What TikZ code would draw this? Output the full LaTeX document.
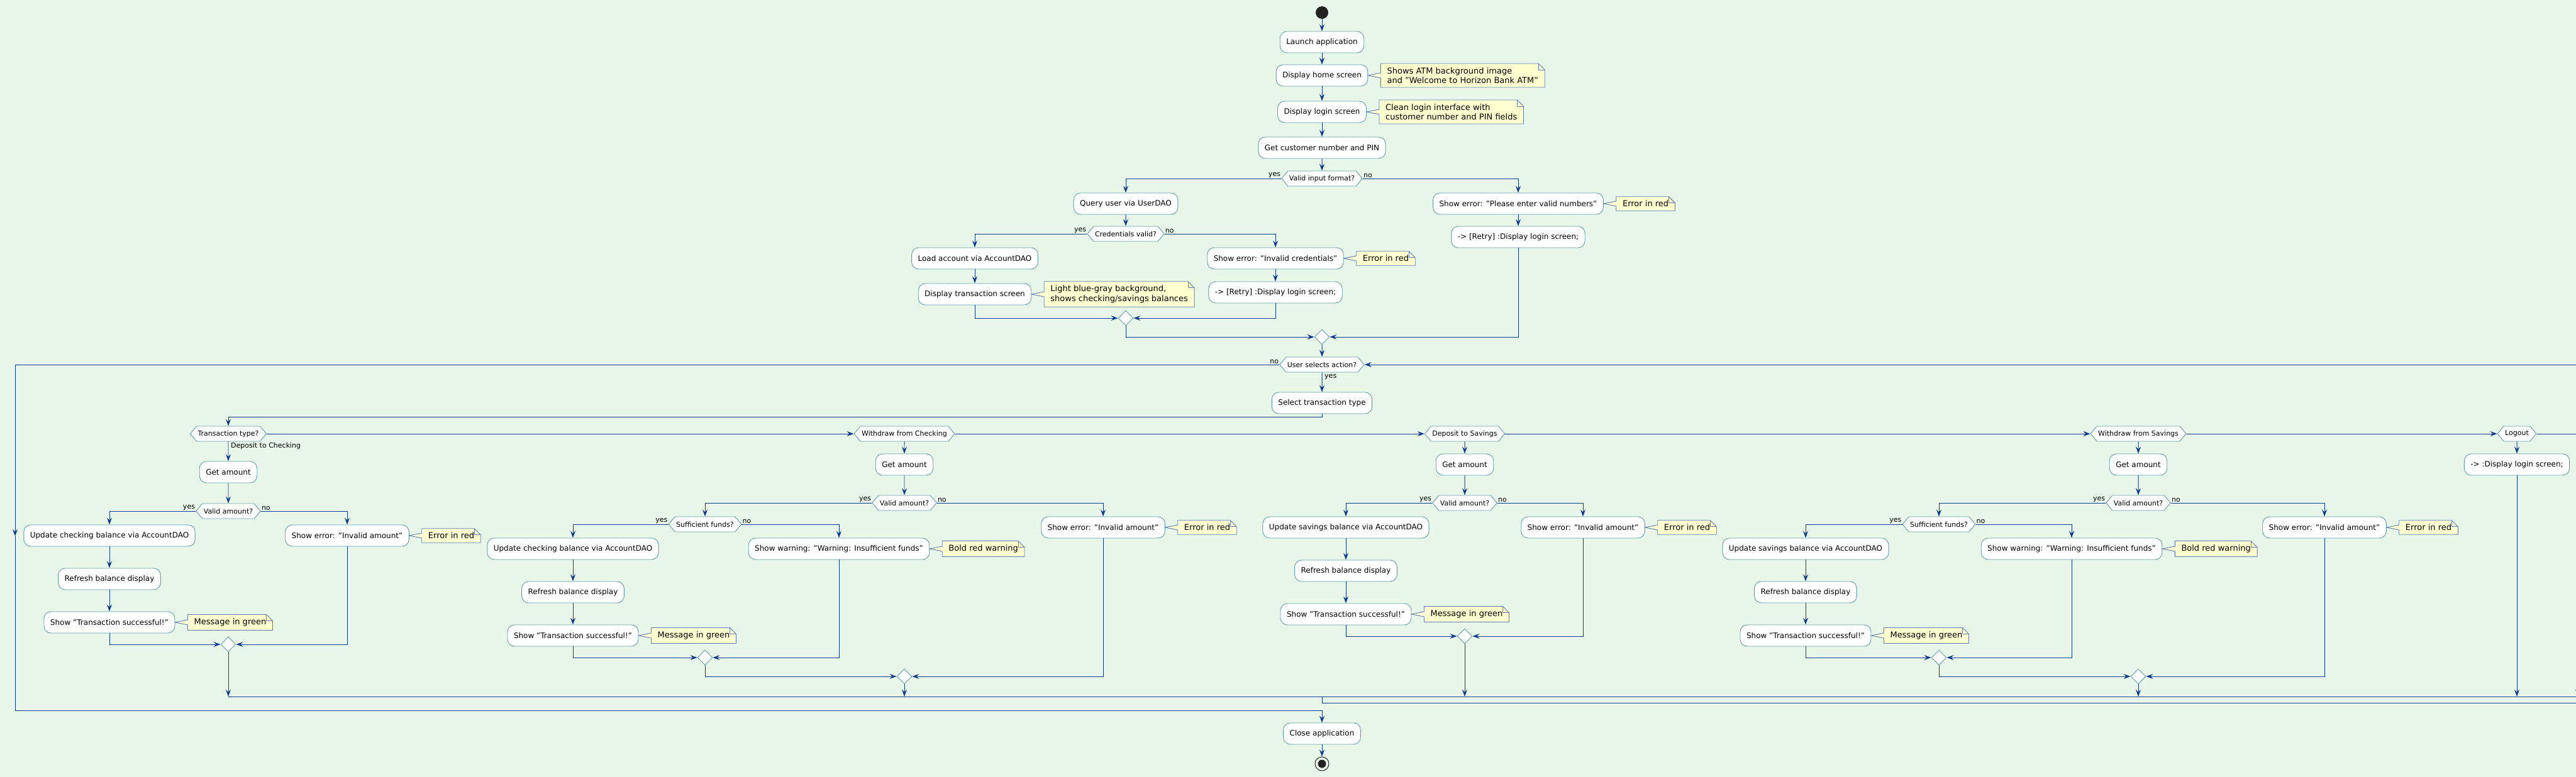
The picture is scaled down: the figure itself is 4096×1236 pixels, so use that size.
\documentclass[tikz,border=0pt]{standalone}
\usepackage{fontspec}
\setmainfont{DejaVu Sans}
\usepackage{tikz}
\usetikzlibrary{positioning,shapes.geometric,shapes.symbols,arrows.meta,calc}
\usepackage{color}
\definecolor{bgc}{HTML}{E8F5E9}
\definecolor{actc}{HTML}{5F9EA8}
\definecolor{flowc}{HTML}{0D3B8E}
\definecolor{notec}{HTML}{FFFFD0}
\definecolor{notelc}{HTML}{5F7FB5}
\definecolor{dotc}{HTML}{222222}
\tikzset{
  actbox/.style={draw=actc, line width=0.9pt, fill=white, rounded corners=11pt, minimum height=34pt, inner xsep=10pt, inner ysep=0pt, font=\fontsize{12}{14}\selectfont},
  decbox/.style={shape=signal, signal to=west and east, signal pointer angle=100, draw=actc, line width=0.9pt, fill=white, minimum height=24pt, inner xsep=2pt, inner ysep=2pt, font=\fontsize{11}{13}\selectfont},
  mergebox/.style={diamond, draw=actc, line width=0.9pt, fill=white, minimum width=24pt, minimum height=24pt, inner sep=0pt},
  notebox/.style={fill=notec, inner xsep=10pt, inner ysep=6pt, align=left, font=\fontsize{13}{15.5}\selectfont},
  arrowline/.style={draw=flowc, line width=0.95pt, -{Stealth[length=11pt, width=8pt, inset=4pt]}},
  plainline/.style={draw=flowc, line width=0.95pt},
  branchlabel/.style={font=\fontsize{11}{13}\selectfont, inner sep=1pt},
}
\newcommand{\noteto}[2]{%
  \fill[bgc] ([xshift=-10pt]#1.north east) -- (#1.north east) -- ([yshift=-10pt]#1.north east) -- cycle;
  \fill[notec] ([yshift=4pt]#1.west) -- (#2.east) -- ([yshift=-4pt]#1.west) -- cycle;
  \draw[notelc, line width=0.9pt] (#1.north west) -- ([xshift=-10pt]#1.north east) -- ([yshift=-10pt]#1.north east) -- (#1.south east) -- (#1.south west) -- ([yshift=-4pt]#1.west) -- (#2.east) -- ([yshift=4pt]#1.west) -- cycle;
  \draw[notelc, line width=0.9pt] ([xshift=-10pt]#1.north east) |- ([yshift=-10pt]#1.north east);
}
\begin{document}
\begin{tikzpicture}[x=1pt,y=-1pt]
\useasboundingbox (0,0) rectangle (4096,1236);
\fill[bgc] (0,0) rectangle (4096,1236);

\node[circle, fill=dotc, minimum size=20pt, inner sep=0pt] (ST) at (2102,20) {};
\node[actbox] (LA) at (2102,67) {Launch application};
\node[actbox] (HS) at (2102,120) {Display home screen};
\node[notebox, right=20pt of HS] (N1) {Shows ATM background image\\and "Welcome to Horizon Bank ATM"};
\node[actbox] (LS) at (2102,178) {Display login screen};
\node[notebox, right=20pt of LS] (N2) {Clean login interface with\\customer number and PIN fields};
\node[actbox] (GP) at (2102,235) {Get customer number and PIN};
\node[decbox] (VF) at (2102,284) {Valid input format?};
\node[actbox] (QU) at (1790,324) {Query user via UserDAO};
\node[decbox] (CV) at (1790,372) {Credentials valid?};
\node[actbox] (LD) at (1550,411) {Load account via AccountDAO};
\node[actbox] (DT) at (1550,468) {Display transaction screen};
\node[notebox, right=20pt of DT] (N3) {Light blue-gray background,\\shows checking/savings balances};
\node[actbox] (EC) at (2028,411) {Show error: "Invalid credentials"};
\node[notebox, right=20pt of EC] (N4) {Error in red};
\node[actbox] (R1) at (2028,465) {-> [Retry] :Display login screen;};
\node[mergebox] (M1) at (1790,506) {};
\node[actbox] (EV) at (2414,324) {Show error: "Please enter valid numbers"};
\node[notebox, right=20pt of EV] (N5) {Error in red};
\node[actbox] (R2) at (2414,377) {-> [Retry] :Display login screen;};
\node[mergebox] (M2) at (2102,536) {};
\node[decbox] (UA) at (2102,580) {User selects action?};
\node[actbox] (SE) at (2102,641) {Select transaction type};
\node[decbox] (TT) at (363,690) {Transaction type?};

\node[actbox] (GA1) at (363,751) {Get amount};
\node[decbox] (VA1) at (363,813) {Valid amount?};
\node[actbox] (UP1) at (174,852) {Update checking balance via AccountDAO};
\node[actbox] (RF1) at (174,921) {Refresh balance display};
\node[actbox] (SC1) at (174,990) {Show "Transaction successful!"};
\node[notebox, right=20pt of SC1] (N6) {Message in green};
\node[actbox] (ER1) at (552,852) {Show error: "Invalid amount"};
\node[notebox, right=20pt of ER1] (N7) {Error in red};
\node[mergebox] (M3) at (363,1025) {};

\node[decbox] (WC) at (1438,690) {Withdraw from Checking};
\node[actbox] (GA2) at (1438,739) {Get amount};
\node[decbox] (VA2) at (1438,800) {Valid amount?};
\node[decbox] (SF1) at (1121,834) {Sufficient funds?};
\node[actbox] (UP2) at (911,873) {Update checking balance via AccountDAO};
\node[actbox] (RF2) at (911,942) {Refresh balance display};
\node[actbox] (SC2) at (911,1011) {Show "Transaction successful!"};
\node[notebox, right=20pt of SC2] (N8) {Message in green};
\node[actbox] (WN1) at (1334,873) {Show warning: "Warning: Insufficient funds"};
\node[notebox, right=20pt of WN1] (N9) {Bold red warning};
\node[mergebox] (M4) at (1121,1046) {};
\node[actbox] (ER2) at (1754,839) {Show error: "Invalid amount"};
\node[notebox, right=20pt of ER2] (N10) {Error in red};
\node[mergebox] (M5) at (1438,1076) {};

\node[decbox] (DS) at (2329,690) {Deposit to Savings};
\node[actbox] (GA3) at (2329,739) {Get amount};
\node[decbox] (VA3) at (2329,800) {Valid amount?};
\node[actbox] (UP3) at (2140,839) {Update savings balance via AccountDAO};
\node[actbox] (RF3) at (2140,908) {Refresh balance display};
\node[actbox] (SC3) at (2140,977) {Show "Transaction successful!"};
\node[notebox, right=20pt of SC3] (N11) {Message in green};
\node[actbox] (ER3) at (2517,839) {Show error: "Invalid amount"};
\node[notebox, right=20pt of ER3] (N12) {Error in red};
\node[mergebox] (M6) at (2329,1012) {};

\node[decbox] (WS) at (3400,690) {Withdraw from Savings};
\node[actbox] (GA4) at (3400,739) {Get amount};
\node[decbox] (VA4) at (3400,800) {Valid amount?};
\node[decbox] (SF2) at (3083,834) {Sufficient funds?};
\node[actbox] (UP4) at (2871,873) {Update savings balance via AccountDAO};
\node[actbox] (RF4) at (2871,942) {Refresh balance display};
\node[actbox] (SC4) at (2871,1011) {Show "Transaction successful!"};
\node[notebox, right=20pt of SC4] (N13) {Message in green};
\node[actbox] (WN2) at (3294,873) {Show warning: "Warning: Insufficient funds"};
\node[notebox, right=20pt of WN2] (N14) {Bold red warning};
\node[mergebox] (M7) at (3083,1046) {};
\node[actbox] (ER4) at (3696,839) {Show error: "Invalid amount"};
\node[notebox, right=20pt of ER4] (N15) {Error in red};
\node[mergebox] (M8) at (3400,1076) {};

\node[decbox] (LO) at (4002,690) {Logout};
\node[actbox] (RL) at (4002,739) {-> :Display login screen;};

\node[actbox] (CL) at (2102,1167) {Close application};
\node[circle, draw=dotc, line width=1pt, fill=bgc, minimum size=22pt, inner sep=0pt] (SP) at (2102,1215) {};
\fill[dotc] (SP.center) circle (6.5pt);

\coordinate (SW) at (0,1108);
\coordinate (SX) at (4120,1108);
\coordinate (LB) at (4120,1118);
\coordinate (LE) at (4120,690);
\coordinate (LM) at (24,853);
\coordinate (LX) at (24,1130);
\coordinate (RX) at (4099,1060);

\noteto{N1}{HS}
\noteto{N2}{LS}
\noteto{N3}{DT}
\noteto{N4}{EC}
\noteto{N5}{EV}
\noteto{N6}{SC1}
\noteto{N7}{ER1}
\noteto{N8}{SC2}
\noteto{N9}{WN1}
\noteto{N10}{ER2}
\noteto{N11}{SC3}
\noteto{N12}{ER3}
\noteto{N13}{SC4}
\noteto{N14}{WN2}
\noteto{N15}{ER4}

\draw[arrowline] (ST) -- (LA);
\draw[arrowline] (LA) -- (HS);
\draw[arrowline] (HS) -- (LS);
\draw[arrowline] (LS) -- (GP);
\draw[arrowline] (GP) -- (VF);
\draw[arrowline] (VF.west) -| (QU.north);
\draw[arrowline] (VF.east) -| (EV.north);
\draw[arrowline] (QU) -- (CV);
\draw[arrowline] (CV.west) -| (LD.north);
\draw[arrowline] (CV.east) -| (EC.north);
\draw[arrowline] (LD) -- (DT);
\draw[arrowline] (EC) -- (R1);
\draw[arrowline] (DT.south) |- (M1.west);
\draw[arrowline] (R1.south) |- (M1.east);
\draw[arrowline] (EV) -- (R2);
\draw[arrowline] (M1.south) |- (M2.west);
\draw[arrowline] (R2.south) |- (M2.east);
\draw[arrowline] (M2) -- (UA);
\draw[arrowline] (UA) -- (SE);
\draw[arrowline] (SE.south) -- ++(0,5) -| (TT.north);
\draw[arrowline] (TT.east) -- (WC.west);
\draw[arrowline] (WC.east) -- (DS.west);
\draw[arrowline] (DS.east) -- (WS.west);
\draw[arrowline] (WS.east) -- (LO.west);
\draw[plainline] (LO.east) -- (LE);

\draw[arrowline] (TT) -- (GA1);
\draw[arrowline] (GA1) -- (VA1);
\draw[arrowline] (VA1.west) -| (UP1.north);
\draw[arrowline] (VA1.east) -| (ER1.north);
\draw[arrowline] (UP1) -- (RF1);
\draw[arrowline] (RF1) -- (SC1);
\draw[arrowline] (SC1.south) |- (M3.west);
\draw[arrowline] (ER1.south) |- (M3.east);
\draw[arrowline] (M3) -- (M3 |- SW);

\draw[arrowline] (WC) -- (GA2);
\draw[arrowline] (GA2) -- (VA2);
\draw[arrowline] (VA2.west) -| (SF1.north);
\draw[arrowline] (VA2.east) -| (ER2.north);
\draw[arrowline] (SF1.west) -| (UP2.north);
\draw[arrowline] (SF1.east) -| (WN1.north);
\draw[arrowline] (UP2) -- (RF2);
\draw[arrowline] (RF2) -- (SC2);
\draw[arrowline] (SC2.south) |- (M4.west);
\draw[arrowline] (WN1.south) |- (M4.east);
\draw[arrowline] (M4.south) |- (M5.west);
\draw[arrowline] (ER2.south) |- (M5.east);
\draw[arrowline] (M5) -- (M5 |- SW);

\draw[arrowline] (DS) -- (GA3);
\draw[arrowline] (GA3) -- (VA3);
\draw[arrowline] (VA3.west) -| (UP3.north);
\draw[arrowline] (VA3.east) -| (ER3.north);
\draw[arrowline] (UP3) -- (RF3);
\draw[arrowline] (RF3) -- (SC3);
\draw[arrowline] (SC3.south) |- (M6.west);
\draw[arrowline] (ER3.south) |- (M6.east);
\draw[arrowline] (M6) -- (M6 |- SW);

\draw[arrowline] (WS) -- (GA4);
\draw[arrowline] (GA4) -- (VA4);
\draw[arrowline] (VA4.west) -| (SF2.north);
\draw[arrowline] (VA4.east) -| (ER4.north);
\draw[arrowline] (SF2.west) -| (UP4.north);
\draw[arrowline] (SF2.east) -| (WN2.north);
\draw[arrowline] (UP4) -- (RF4);
\draw[arrowline] (RF4) -- (SC4);
\draw[arrowline] (SC4.south) |- (M7.west);
\draw[arrowline] (WN2.south) |- (M7.east);
\draw[arrowline] (M7.south) |- (M8.west);
\draw[arrowline] (ER4.south) |- (M8.east);
\draw[arrowline] (M8) -- (M8 |- SW);

\draw[arrowline] (LO) -- (RL);
\draw[arrowline] (RL) -- (RL |- SW);
\draw[arrowline] (RX) -- (RX |- SW);

\draw[plainline] (M3 |- SW) -- (SX);
\draw[arrowline] (SE |- SW) |- (LB) |- (UA.east);
\draw[arrowline] (UA.west) -| (LM);
\draw[arrowline] (LM) -- (LX) -| (CL.north);
\draw[arrowline] (CL) -- (SP);

\node[branchlabel, anchor=south east] (Y1) at (VF.west) {yes};
\node[branchlabel, anchor=south west] (F1) at (VF.east) {no};
\node[branchlabel, anchor=south east] (Y2) at (CV.west) {yes};
\node[branchlabel, anchor=south west] (F2) at (CV.east) {no};
\node[branchlabel, anchor=south east] (F3) at (UA.west) {no};
\node[branchlabel, anchor=north west] (Y3) at ([xshift=3pt,yshift=-2pt]UA.south) {yes};
\node[branchlabel, anchor=north west] (C1) at ([xshift=3pt]TT.south) {Deposit to Checking};
\node[branchlabel, anchor=south east] (Y4) at (VA1.west) {yes};
\node[branchlabel, anchor=south west] (F4) at (VA1.east) {no};
\node[branchlabel, anchor=south east] (Y5) at (VA2.west) {yes};
\node[branchlabel, anchor=south west] (F5) at (VA2.east) {no};
\node[branchlabel, anchor=south east] (Y6) at (SF1.west) {yes};
\node[branchlabel, anchor=south west] (F6) at (SF1.east) {no};
\node[branchlabel, anchor=south east] (Y7) at (VA3.west) {yes};
\node[branchlabel, anchor=south west] (F7) at (VA3.east) {no};
\node[branchlabel, anchor=south east] (Y8) at (VA4.west) {yes};
\node[branchlabel, anchor=south west] (F8) at (VA4.east) {no};
\node[branchlabel, anchor=south east] (Y9) at (SF2.west) {yes};
\node[branchlabel, anchor=south west] (F9) at (SF2.east) {no};
\end{tikzpicture}
\end{document}
